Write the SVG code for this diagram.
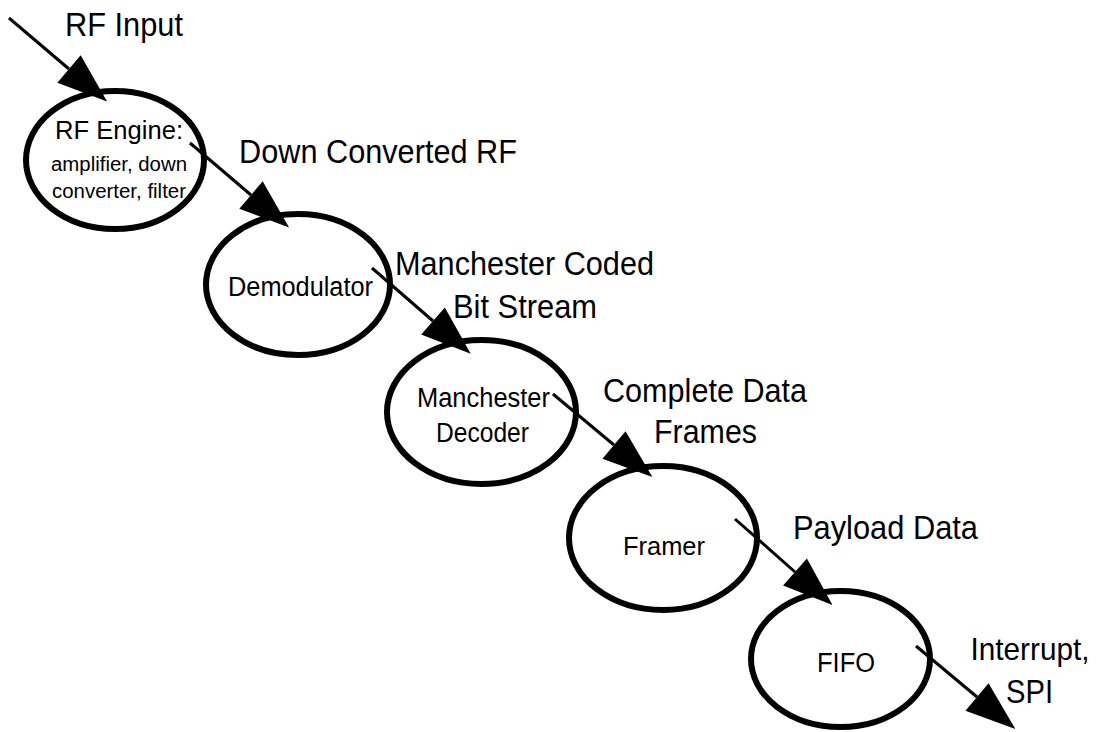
<svg xmlns="http://www.w3.org/2000/svg" width="1097" height="732" viewBox="0 0 1097 732">
  <style>
    .node ellipse { fill: none; stroke: #000; stroke-width: 6; }
    .edge line { stroke: #000; stroke-width: 3; marker-end: url(#head); }
    text { font-family: "Liberation Sans", Arial, sans-serif; fill: #000; text-anchor: middle; }
    .lbl { font-size: 34px; }
    .nt { font-size: 27px; }
    .sm { font-size: 20px; }
  </style>
  <defs>
    <marker id="head" markerUnits="userSpaceOnUse" markerWidth="50" markerHeight="36" viewBox="0 -18 50 36" refX="0" refY="0" orient="auto" overflow="visible">
      <path d="M0,-18 L50,0 L0,18 Z" fill="#000"/>
    </marker>
  </defs>
  <rect width="1097" height="732" fill="#fff"/>

  <g id="nodes">
    <g id="rf-engine" class="node">
      <ellipse cx="115" cy="160" rx="89" ry="69"/>
      <text x="119" y="139" style="font-size:26px" textLength="128" lengthAdjust="spacingAndGlyphs">RF Engine:</text>
      <text class="sm" x="119" y="171" textLength="136" lengthAdjust="spacingAndGlyphs">amplifier, down</text>
      <text class="sm" x="119" y="198" textLength="134" lengthAdjust="spacingAndGlyphs">converter, filter</text>
    </g>
    <g id="demodulator" class="node">
      <ellipse cx="298" cy="284.5" rx="92" ry="70.5"/>
      <text class="nt" x="300.5" y="296" textLength="145" lengthAdjust="spacingAndGlyphs">Demodulator</text>
    </g>
    <g id="manchester-decoder" class="node">
      <ellipse cx="481.5" cy="412" rx="94.5" ry="72"/>
      <text class="nt" x="483.5" y="407" textLength="133" lengthAdjust="spacingAndGlyphs">Manchester</text>
      <text class="nt" x="482.5" y="442" textLength="93" lengthAdjust="spacingAndGlyphs">Decoder</text>
    </g>
    <g id="framer" class="node">
      <ellipse cx="663" cy="538" rx="94" ry="72"/>
      <text x="664" y="555" style="font-size:26px" textLength="82" lengthAdjust="spacingAndGlyphs">Framer</text>
    </g>
    <g id="fifo" class="node">
      <ellipse cx="840.5" cy="659" rx="89.5" ry="68"/>
      <text class="nt" x="846" y="672" textLength="58" lengthAdjust="spacingAndGlyphs">FIFO</text>
    </g>
  </g>

  <g id="connectors">
    <g id="e-rf-input" class="edge">
      <line x1="9" y1="18" x2="69" y2="69"/>
      <text class="lbl" x="124" y="36" textLength="118" lengthAdjust="spacingAndGlyphs">RF Input</text>
    </g>
    <g id="e-down-converted" class="edge">
      <line x1="190" y1="143" x2="251" y2="195"/>
      <text class="lbl" x="378" y="163" textLength="278" lengthAdjust="spacingAndGlyphs">Down Converted RF</text>
    </g>
    <g id="e-manchester-coded" class="edge">
      <line x1="372" y1="268" x2="433" y2="321"/>
      <text class="lbl" x="524.5" y="275" textLength="259" lengthAdjust="spacingAndGlyphs">Manchester Coded</text>
      <text class="lbl" x="525" y="318" textLength="144" lengthAdjust="spacingAndGlyphs">Bit Stream</text>
    </g>
    <g id="e-complete-frames" class="edge">
      <line x1="553" y1="394" x2="614" y2="445"/>
      <text class="lbl" x="705" y="402" textLength="204" lengthAdjust="spacingAndGlyphs">Complete Data</text>
      <text class="lbl" x="705.5" y="443" textLength="103" lengthAdjust="spacingAndGlyphs">Frames</text>
    </g>
    <g id="e-payload" class="edge">
      <line x1="735" y1="519" x2="795" y2="572"/>
      <text class="lbl" x="885.5" y="539" textLength="185" lengthAdjust="spacingAndGlyphs">Payload Data</text>
    </g>
    <g id="e-interrupt" class="edge">
      <line x1="916" y1="646" x2="977" y2="697"/>
      <text x="1030" y="660" style="font-size:32px" textLength="119" lengthAdjust="spacingAndGlyphs">Interrupt,</text>
      <text class="lbl" x="1029.5" y="703" textLength="47" lengthAdjust="spacingAndGlyphs">SPI</text>
    </g>
  </g>
</svg>
